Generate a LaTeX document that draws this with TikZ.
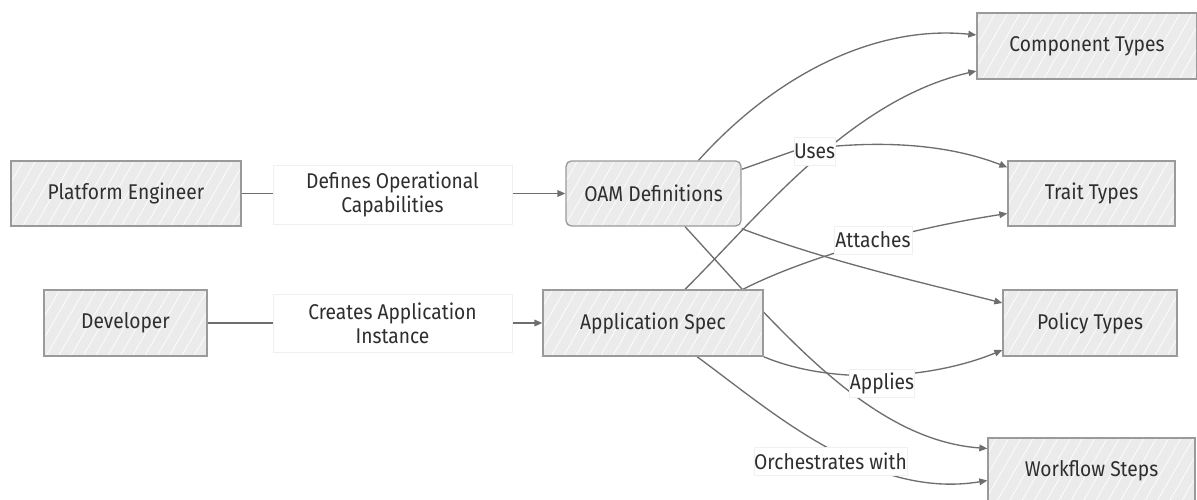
\documentclass[tikz,border=0pt]{standalone}
\usepackage{fontspec}
\setmainfont{Fira Sans}[FakeStretch=0.9]
\usetikzlibrary{arrows.meta,calc,patterns.meta}
\definecolor{boxfill}{HTML}{EBEBEB}
\definecolor{boxline}{HTML}{9A9A9A}
\definecolor{edgecol}{HTML}{6E6E6E}
\definecolor{txt}{HTML}{2E2E2E}
\pgfdeclarelayer{edges}
\pgfsetlayers{edges,main}
\begin{document}
\begin{tikzpicture}[x=0.75pt,y=-0.75pt,
  box/.style={draw=boxline, line width=1pt, preaction={fill=boxfill},
    pattern={Lines[angle=60,distance=8pt,line width=0.5pt]}, pattern color=white,
    text=txt, font=\fontsize{16}{18}\selectfont, inner sep=0pt},
  lbl/.style={fill=white, draw=gray!12, line width=0.5pt, text=txt,
    font=\fontsize{16}{18}\selectfont, inner sep=0pt, align=center},
  link/.style={draw=edgecol, line width=1pt},
  edge/.style={link, -{Triangle[length=6pt,width=5pt]}}]
\useasboundingbox (0,0) rectangle (1197,500);

% nodes
\node[box, minimum width=172.5pt, minimum height=48.75pt] (pe) at (126,193.5) {Platform Engineer};
\node[box, minimum width=122.25pt, minimum height=49.5pt] (dev) at (125.5,323) {Developer};
\node[box, rounded corners=4pt, minimum width=131.25pt, minimum height=48.75pt] (oam) at (653.5,193.5) {OAM Definitions};
\node[box, minimum width=165pt, minimum height=49.5pt] (app) at (653,323) {Application Spec};
\node[box, minimum width=165pt, minimum height=49.5pt] (ct) at (1087,46) {Component Types};
\node[box, minimum width=125.25pt, minimum height=48.75pt] (tt) at (1091.5,193.5) {Trait Types};
\node[box, minimum width=130.5pt, minimum height=49.5pt] (pt) at (1090,323) {Policy Types};
\node[box, minimum width=155.25pt, minimum height=48.75pt] (ws) at (1091.5,470.5) {Workflow Steps};

% edge labels
\node[lbl, minimum width=179.25pt, minimum height=44.25pt] (l1) at (392.5,194.5) {Defines Operational\\Capabilities};
\node[lbl, minimum width=179.25pt, minimum height=43.5pt] (l2) at (392.5,323) {Creates Application\\Instance};
\node[lbl, minimum width=30.75pt, minimum height=21pt] (luses) at (814.5,151) {Uses};
\node[lbl, minimum width=58.5pt, minimum height=21pt] (latt) at (873,240) {Attaches};
\node[lbl, minimum width=48.75pt, minimum height=21pt] (lapp) at (882,383.5) {Applies};
\node[lbl, minimum width=114.75pt, minimum height=21pt] (lorch) at (830.5,461) {Orchestrates with};

\begin{pgfonlayer}{edges}
\draw[edge] (pe.east) -- (oam.west);
\draw[edge] (dev.east) -- (app.west);
% OAM edges
\draw[edge] ($(oam.north)+(45,0)$) .. controls (780,70) and (880,25) .. ($(ct.west)+(0,-11)$);
\draw[edge] ($(oam.north east)+(0,9)$) -- (luses.west) .. controls (880,138) and (950,145) .. ($(tt.north west)+(0,7)$);
\draw[edge] ($(oam.south east)+(0,2)$) .. controls (830,262) and (920,282) .. ($(pt.west)+(0,-20)$);
\draw[edge] ($(oam.south)+(31.5,0)$) .. controls (780,330) and (870,440) .. ($(ws.west)+(0,-22)$);
% App edges
\draw[edge] ($(app.north)+(32,0)$) .. controls (760,215) and (850,100) .. ($(ct.west)+(0,25)$);
\draw[edge] ($(app.north)+(90,0)$) .. controls (800,260) and (900,230) .. ($(tt.west)+(0,20)$);
\draw[edge] (app.south east) .. controls (830,385) and (930,380) .. ($(pt.west)+(0,27)$);
\draw[edge] ($(app.south)+(44,0)$) .. controls (770,410) and (870,500) .. ($(ws.west)+(0,10)$);
\end{pgfonlayer}
\end{tikzpicture}
\end{document}
